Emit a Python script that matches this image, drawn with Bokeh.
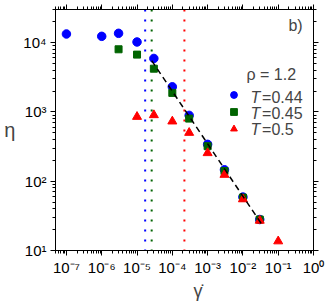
from bokeh.plotting import figure
from bokeh.models import (Range1d, LogAxis, FixedTicker, CustomJSTickFormatter,
                          Label, Legend, LegendItem, Span, Title)
from bokeh.embed import file_html
from bokeh.resources import INLINE

# ---- data ----
gd_044 = [1e-7, 1e-6, 3e-6, 1e-5, 3e-5, 1e-4, 3e-4, 1e-3, 3e-3, 1e-2, 3e-2]
eta_044 = [13300, 12300, 13600, 10200, 5900, 2300, 890, 340, 146, 59, 28]
gd_045 = [3e-6, 1e-5, 3e-5, 1e-4, 3e-4, 1e-3, 3e-3, 1e-2, 3e-2]
eta_045 = [8000, 6700, 4200, 1880, 800, 320, 140, 58, 28]
gd_050 = [1e-5, 3e-5, 1e-4, 3e-4, 1e-3, 3e-3, 1e-2, 3e-2, 1e-1]
eta_050 = [850, 900, 730, 500, 255, 124, 55, 27, 13.6]
fit_x = [2.6e-5, 3.4e-2]
fit_y = [5500, 24]
crossover = [1.7e-5, 2.6e-5, 2.2e-4]
labels = ["0.44", "0.45", "0.5"]

x_major = [10.0 ** e for e in range(-7, 1)]
x_minor = [m * 10.0 ** e for e in range(-8, 0) for m in range(2, 10)]
y_major = [10.0 ** e for e in range(1, 5)]
y_minor = [m * 10.0 ** e for e in range(1, 5) for m in range(2, 10)]

BLUE = "#0000ff"
GREEN = "#006400"
RED = "#ff0000"
FONT = "Liberation Sans"

p = figure(width=327, height=303, x_axis_type="log", y_axis_type="log",
           x_range=Range1d(4.9e-8, 1.0), y_range=Range1d(10, 3.0e4),
           output_backend="svg", toolbar_location=None,
           min_border_left=55, min_border_right=14,
           min_border_top=9, min_border_bottom=53)
p.grid.visible = False
p.outline_line_color = "black"
p.background_fill_color = "white"

sup = CustomJSTickFormatter(code="""
const e = Math.round(Math.log10(tick));
const m = {"-":"\u207b","0":"\u2070","1":"\u00b9","2":"\u00b2","3":"\u00b3","4":"\u2074",
           "5":"\u2075","6":"\u2076","7":"\u2077","8":"\u2078","9":"\u2079"};
return "10" + String(e).split("").map(c => m[c]).join("");
""")
blank = CustomJSTickFormatter(code="return '';")

def style(ax, major, minor, fmt):
    ax.ticker = FixedTicker(ticks=major, minor_ticks=minor)
    ax.formatter = fmt
    ax.major_tick_out = 5
    ax.major_tick_in = 0
    ax.minor_tick_out = 3
    ax.minor_tick_in = 0
    ax.axis_line_color = "black"
    ax.major_tick_line_color = "black"
    ax.minor_tick_line_color = "black"
    ax.major_label_text_font = FONT
    ax.major_label_text_font_size = "15px"
    ax.major_label_text_color = "black"

style(p.xaxis[0], x_major, x_minor, sup)
style(p.yaxis[0], y_major, y_minor, sup)
p.xaxis[0].major_label_standoff = 3
p.yaxis[0].major_label_standoff = 4
p.yaxis[0].axis_label = "\u03b7"
p.yaxis[0].axis_label_orientation = "horizontal"
p.yaxis[0].axis_label_text_font = FONT
p.yaxis[0].axis_label_text_font_style = "normal"
p.yaxis[0].axis_label_text_font_size = "20px"
p.yaxis[0].axis_label_standoff = 5

top = LogAxis()
style(top, x_major, x_minor, blank)
top.major_label_standoff = 0
p.add_layout(top, "above")
right = LogAxis()
style(right, y_major, y_minor, blank)
right.major_label_standoff = 0
p.add_layout(right, "right")

for xv, c in zip(crossover, [BLUE, GREEN, RED]):
    p.add_layout(Span(location=xv, dimension="height", line_color=c,
                      line_width=2, line_dash="2 8", level="underlay"))

r1 = p.scatter(gd_044, eta_044, marker="circle", size=8.5, color=BLUE)
r2 = p.scatter(gd_045, eta_045, marker="square", size=7, color=GREEN)
r3 = p.scatter(gd_050, eta_050, marker="triangle", size=9, color=RED)
p.line(fit_x, fit_y, line_color="black", line_width=1.5, line_dash="6 4")

legend = Legend(items=[LegendItem(label="T=" + labels[0], renderers=[r1]),
                       LegendItem(label="T=" + labels[1], renderers=[r2]),
                       LegendItem(label="T=" + labels[2], renderers=[r3])],
                location=(169, 113), glyph_width=19, glyph_height=17,
                label_height=16, label_width=0, spacing=-1, padding=0, margin=0,
                label_standoff=0, label_text_alpha=0, label_text_font_size="10px",
                border_line_color=None, background_fill_alpha=0)
p.add_layout(legend)

p.add_layout(Label(x=0.195, y=1.78e4, text="b)", text_font=FONT,
                   text_font_size="16px", text_baseline="middle", text_align="left"))
p.add_layout(Label(x=0.0126, y=3490, text="\u03c1 = 1.2", text_font=FONT,
                   text_font_size="16px", text_baseline="middle", text_align="left"))
for yv, lab in zip([1589, 955, 561], labels):
    p.add_layout(Label(x=0.0163, y=yv, text="T", text_font=FONT, text_font_style="italic",
                       text_font_size="16px", text_baseline="middle", text_align="left"))
    p.add_layout(Label(x=0.035, y=yv, text="=" + lab, text_font=FONT,
                       text_font_size="16px", text_baseline="middle", text_align="left"))

p.add_layout(Title(text="\u03b3\u0307", align="left", offset=138, standoff=0,
                   text_font=FONT, text_font_size="18px", text_font_style="normal"),
             "below")

open("out.html", "w").write(file_html(p, INLINE))
